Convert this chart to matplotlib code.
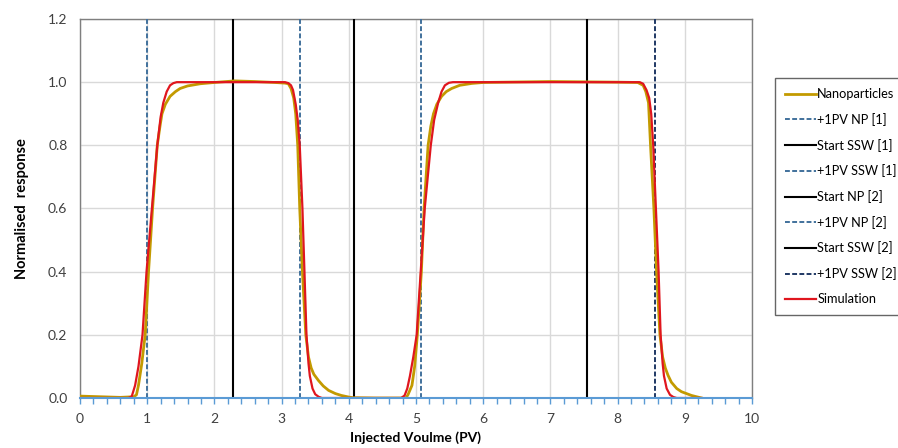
import matplotlib
matplotlib.use("Agg")
import matplotlib.pyplot as plt
from matplotlib.ticker import MultipleLocator

plt.rcParams['font.family'] = ['Lato', 'DejaVu Sans']

# measured curves
np_x = [0.0, 0.3, 0.6, 0.8, 0.84, 0.87, 0.92, 0.97, 1.02, 1.08, 1.15, 1.19, 1.22, 1.27,
        1.34, 1.42, 1.49, 1.6, 1.79, 2.0, 2.3, 2.6, 2.9, 3.05, 3.10, 3.14, 3.18, 3.21,
        3.24, 3.27, 3.31, 3.36, 3.40, 3.44, 3.48, 3.55, 3.62, 3.70, 3.80, 3.89, 4.0, 4.06,
        4.4, 4.85, 4.88, 4.94, 4.98, 5.02, 5.08, 5.12, 5.18, 5.22, 5.26, 5.31, 5.38,
        5.45, 5.53, 5.65, 5.83, 6.0, 7.0, 8.0, 8.3, 8.38, 8.42, 8.46, 8.49, 8.54, 8.58,
        8.63, 8.67, 8.71, 8.75, 8.80, 8.88, 8.95, 9.10, 9.25]
np_y = [0.006, 0.004, 0.002, 0.004, 0.01, 0.04, 0.11, 0.2, 0.4, 0.6, 0.8, 0.86, 0.9, 0.93,
        0.955, 0.97, 0.98, 0.988, 0.995, 0.999, 1.004, 1.002, 0.999, 0.997, 0.995, 0.98, 0.95, 0.9,
        0.8, 0.6, 0.4, 0.2, 0.13, 0.095, 0.075, 0.055, 0.038, 0.024, 0.014, 0.008, 0.003, 0.001,
        0.0, 0.0, 0.01, 0.04, 0.1, 0.2, 0.4, 0.6, 0.8, 0.86, 0.9, 0.93, 0.955,
        0.97, 0.98, 0.99, 0.996, 0.999, 1.002, 1.0, 0.999, 0.99, 0.97, 0.935, 0.8, 0.6, 0.4,
        0.2, 0.13, 0.095, 0.072, 0.05, 0.03, 0.02, 0.008, 0.0]

sim_x = [0.0, 0.72, 0.77, 0.82, 0.87, 0.93, 0.99, 1.07, 1.15, 1.20, 1.24, 1.29, 1.34, 1.39,
         1.44, 3.05, 3.10, 3.14, 3.17, 3.21, 3.24, 3.27, 3.31, 3.34, 3.37, 3.40, 3.42, 3.46,
         3.50, 3.55, 3.60, 4.78, 4.83, 4.87, 4.91, 4.96, 5.01, 5.07, 5.13, 5.22, 5.27, 5.33,
         5.38, 5.43, 5.49, 5.55, 8.33, 8.38, 8.43, 8.47, 8.50, 8.53, 8.57, 8.61, 8.64, 8.67,
         8.69, 8.73, 8.78, 8.83, 8.88, 9.25]
sim_y = [0.0, 0.0, 0.005, 0.04, 0.1, 0.2, 0.4, 0.6, 0.8, 0.89, 0.935, 0.97, 0.99, 0.997,
         1.0, 1.0, 0.997, 0.99, 0.975, 0.93, 0.88, 0.8, 0.6, 0.4, 0.2, 0.11, 0.07, 0.03,
         0.012, 0.004, 0.0, 0.0, 0.008, 0.03, 0.07, 0.13, 0.2, 0.4, 0.6, 0.8, 0.88, 0.935,
         0.97, 0.99, 0.998, 1.0, 1.0, 0.995, 0.975, 0.95, 0.9, 0.8, 0.6, 0.4, 0.2, 0.11,
         0.07, 0.03, 0.01, 0.003, 0.0, 0.0]

# marker lines (PV)
vline_labels = ['+1PV NP [1]', 'Start SSW [1]', '+1PV SSW [1]', 'Start NP [2]',
                '+1PV NP [2]', 'Start SSW [2]', '+1PV SSW [2]']
vline_x = [1.0, 2.28, 3.28, 4.07, 5.07, 7.54, 8.55]
vline_col = ['#41719C', '#000000', '#41719C', '#000000', '#41719C', '#000000', '#1F3864']
vline_dash = [True, False, True, False, True, False, True]

fig = plt.figure(figsize=(8.98, 4.48), dpi=100)
ax = fig.add_axes([80/898, 50/448, 672/898, 379/448])

handles = []
h, = ax.plot(np_x, np_y, color='#C39A00', lw=2.0, zorder=4, label='Nanoparticles')
handles.append(h)
for lab, xv, c, d in zip(vline_labels, vline_x, vline_col, vline_dash):
    if d:
        h = ax.axvline(xv, color=c, lw=1.4, ls=(0, (2.5, 1.2)), zorder=3, label=lab)
    else:
        h = ax.axvline(xv, color=c, lw=1.5, zorder=3, label=lab)
    handles.append(h)
h, = ax.plot(sim_x, sim_y, color='#E0161E', lw=1.6, zorder=5, label='Simulation')
handles.append(h)

ax.set_xlim(0, 10)
ax.set_ylim(0, 1.2)
ax.xaxis.set_major_locator(MultipleLocator(1))
ax.xaxis.set_minor_locator(MultipleLocator(0.2))
ax.yaxis.set_major_locator(MultipleLocator(0.2))
ax.set_yticklabels([f'{v:.1f}' for v in ax.get_yticks()])
ax.grid(True, which='major', color='#D9D9D9', lw=1.0, zorder=0)
ax.set_axisbelow(True)

for s in ['left', 'top', 'right']:
    ax.spines[s].set_color('#7F7F7F')
    ax.spines[s].set_linewidth(1.0)
ax.spines['bottom'].set_color('#5B9BD5')
ax.spines['bottom'].set_linewidth(1.5)
ax.spines['bottom'].set_zorder(6)

ax.tick_params(axis='x', which='both', direction='out', length=4, width=1,
               color='#5B9BD5', labelsize=10, labelcolor='#404040', pad=7)
ax.tick_params(axis='y', length=0, labelsize=10, labelcolor='#404040', pad=9)

ax.set_xlabel('Injected Voulme (PV)', fontsize=10, fontweight='bold', labelpad=4)
ax.set_ylabel('Normalised  response', fontsize=10.5, fontweight='bold', labelpad=14)

leg = fig.legend(handles=handles, loc='upper left', bbox_to_anchor=(775/898, 1 - 78/448),
                 fontsize=9.2, frameon=True, fancybox=False, edgecolor='#404040',
                 handlelength=2.4, handletextpad=0.1, labelspacing=1.0,
                 borderpad=0.8, borderaxespad=0)
leg.get_frame().set_linewidth(1.0)

fig.savefig('out.png', dpi=100)
